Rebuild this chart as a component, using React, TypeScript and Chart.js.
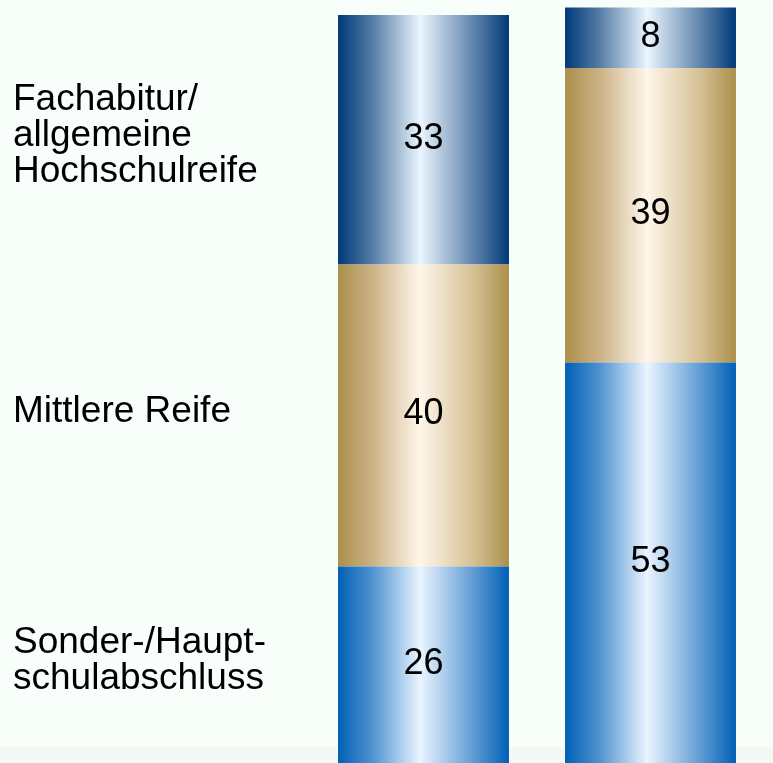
import React, { useEffect, useRef } from "react";
import { Chart, registerables } from "chart.js";

Chart.register(...registerables);

// ---- data ----
const groups = ["Gruppe 1", "Gruppe 2"];
const categoryLabels: string[][] = [
  ["Sonder-/Haupt-", "schulabschluss"],
  ["Mittlere Reife"],
  ["Fachabitur/", "allgemeine", "Hochschulreife"],
];
const hauptValues = [26, 53];
const mittlereValues = [40, 39];
const abiturValues = [33, 8];

const BAR_PCT = 0.753;

const blueStops: [number, string][] = [
  [0, "#0060b6"],
  [0.2, "#4f92cf"],
  [0.48, "#eaf5ff"],
  [0.8, "#5d9ad3"],
  [1, "#005fb6"],
];
const tanStops: [number, string][] = [
  [0, "#ab8f4c"],
  [0.2, "#cbb285"],
  [0.48, "#fff6ea"],
  [0.8, "#d4bf92"],
  [1, "#ab8f4c"],
];
const darkStops: [number, string][] = [
  [0, "#003a78"],
  [0.2, "#547ca5"],
  [0.48, "#eaf5ff"],
  [0.8, "#5d82aa"],
  [1, "#003a78"],
];

function gradient(stops: [number, string][]) {
  return (c: any) => {
    const chart = c.chart;
    const xs = chart.scales?.x;
    if (!xs || c.dataIndex === undefined) return stops[0][1];
    const cx = xs.getPixelForValue(c.dataIndex);
    const w = (xs.width / groups.length) * BAR_PCT;
    if (!isFinite(cx) || !isFinite(w) || w <= 0) return stops[0][1];
    const g = chart.ctx.createLinearGradient(cx - w / 2, 0, cx + w / 2, 0);
    stops.forEach(([o, col]) => g.addColorStop(o, col));
    return g;
  };
}

const FONT = "'Liberation Sans', Arial, Helvetica, sans-serif";

const bgPlugin = {
  id: "bg",
  beforeDraw(chart: any) {
    const ctx = chart.ctx;
    ctx.save();
    ctx.fillStyle = "#f8fffb";
    ctx.fillRect(0, 0, chart.width, chart.height);
    ctx.fillStyle = "#f4f9f6";
    ctx.fillRect(0, 747, chart.width, chart.height - 747);
    ctx.restore();
  },
};

const labelPlugin = {
  id: "labels",
  afterDatasetsDraw(chart: any) {
    const ctx = chart.ctx;
    ctx.save();
    ctx.fillStyle = "#000";
    ctx.textBaseline = "middle";
    ctx.textAlign = "center";
    ctx.font = `36px ${FONT}`;
    chart.data.datasets.forEach((ds: any, di: number) => {
      const meta = chart.getDatasetMeta(di);
      meta.data.forEach((bar: any, i: number) => {
        const p = bar.getProps(["x", "y", "base"], true);
        ctx.fillText(String(ds.data[i]), p.x, (p.y + p.base) / 2 - 1);
      });
    });
    ctx.textAlign = "left";
    ctx.font = `37px ${FONT}`;
    const lh = 36;
    categoryLabels.forEach((lines, di) => {
      const bar = chart.getDatasetMeta(di).data[0];
      const p = bar.getProps(["y", "base"], true);
      const cy = (p.y + p.base) / 2 - 4;
      const y0 = cy - ((lines.length - 1) * lh) / 2;
      lines.forEach((t, k) => ctx.fillText(t, 13, y0 + k * lh));
    });
    ctx.restore();
  },
};

export default function App() {
  const ref = useRef<HTMLCanvasElement | null>(null);
  useEffect(() => {
    document.body.style.margin = "0";
    if (!ref.current) return;
    const chart = new Chart(ref.current, {
      type: "bar",
      data: {
        labels: groups,
        datasets: [
          { label: "Sonder-/Hauptschulabschluss", data: hauptValues, backgroundColor: gradient(blueStops) as any },
          { label: "Mittlere Reife", data: mittlereValues, backgroundColor: gradient(tanStops) as any },
          { label: "Fachabitur/allgemeine Hochschulreife", data: abiturValues, backgroundColor: gradient(darkStops) as any },
        ],
      },
      options: {
        animation: false,
        responsive: false,
        layout: { padding: { left: 310, right: 9, top: 0, bottom: 0 } },
        datasets: { bar: { barPercentage: BAR_PCT, categoryPercentage: 1, borderWidth: 0 } },
        scales: {
          x: { stacked: true, display: false },
          y: { stacked: true, display: false, min: 0, max: 101 },
        },
        plugins: { legend: { display: false }, tooltip: { enabled: false } },
      },
      plugins: [bgPlugin, labelPlugin],
    });
    chart.update();
    return () => chart.destroy();
  }, []);
  return (
    <div style={{ position: "absolute", left: 0, top: 0, width: 773, height: 763 }}>
      <canvas ref={ref} width={773} height={763} style={{ display: "block", width: 773, height: 763 }} />
    </div>
  );
}
